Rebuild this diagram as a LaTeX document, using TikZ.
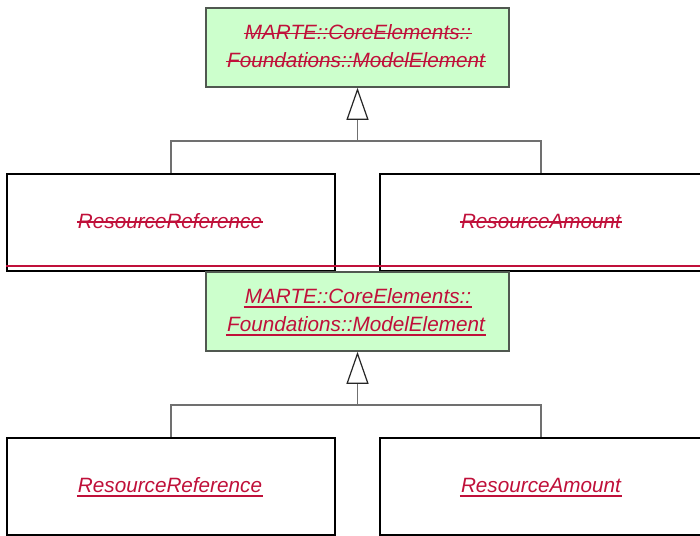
\documentclass[tikz,border=0pt]{standalone}
\usepackage{fontspec}
\setmainfont{Liberation Sans}
\usetikzlibrary{arrows.meta}
\definecolor{diffred}{HTML}{C0103A}
\definecolor{classgreen}{HTML}{CCFFCC}
\definecolor{greenborder}{HTML}{505850}
\definecolor{linkgray}{HTML}{707070}
\begin{document}
\begin{tikzpicture}[x=1pt,y=-1pt,
  lbl/.style={font=\fontsize{20.7}{28}\selectfont\itshape, text=diffred, anchor=base, inner ysep=0pt, inner xsep=1pt},
  parentbox/.style={draw=greenborder, fill=classgreen, line width=1.6pt, minimum width=303pt, minimum height=79pt, inner sep=0pt},
  childbox/.style={draw=black, fill=white, line width=1.8pt, minimum height=97pt, inner sep=0pt},
  link/.style={draw=linkgray, line width=1.5pt},
  genarrow/.style={link, -{Triangle[open, length=32pt, width=22pt, line width=1.2pt, color=black!85]}},
  diffline/.style={draw=diffred, line width=2.2pt},
  markline/.style={draw=diffred, line width=1.5pt}
]
\useasboundingbox (0,0) rectangle (700,535);
\fill[white] (0,0) rectangle (700,535);

% ---- top half (deleted) ----
\node[parentbox] (p1) at (357.5,47.5) {};
\node[childbox, minimum width=328pt] (r1) at (171,222.5) {};
\node[childbox, minimum width=322pt] (a1) at (541,222.5) {};
\node[lbl] (p1a) at (358,39.3) {MARTE::CoreElements::\ };
\node[lbl] (p1b) at (356,67.7) {Foundations::ModelElement};
\node[lbl] (r1t) at (170,228) {ResourceReference};
\node[lbl] (a1t) at (541,228) {ResourceAmount};
\foreach \t in {p1a,p1b,r1t,a1t}
  \draw[markline] ([yshift=6pt]\t.base west) -- ([yshift=6pt]\t.base east);
\coordinate (j1) at (357.5,141);
\draw[link] (r1.north) |- (j1);
\draw[link] (a1.north) |- (j1);
\draw[genarrow] (j1) -- (p1.south);

% ---- bottom half (inserted) ----
\node[parentbox] (p2) at (357.5,311.5) {};
\node[childbox, minimum width=328pt] (r2) at (171,486.5) {};
\node[childbox, minimum width=322pt] (a2) at (541,486.5) {};
\node[lbl] (p2a) at (358,303.3) {MARTE::CoreElements::\ };
\node[lbl] (p2b) at (356,331.7) {Foundations::ModelElement};
\node[lbl] (r2t) at (170,492.5) {ResourceReference};
\node[lbl] (a2t) at (541,492.5) {ResourceAmount};
\foreach \t in {p2a,p2b,r2t,a2t}
  \draw[markline] ([yshift=-3.5pt]\t.base west) -- ([yshift=-3.5pt]\t.base east);
\coordinate (j2) at (357.5,405);
\draw[link] (r2.north) |- (j2);
\draw[link] (a2.north) |- (j2);
\draw[genarrow] (j2) -- (p2.south);

% ---- diff marker line ----
\coordinate (dl) at (6,266);
\coordinate (dr) at (700,266);
\draw[diffline] (dl) -- (dr);
\end{tikzpicture}
\end{document}
